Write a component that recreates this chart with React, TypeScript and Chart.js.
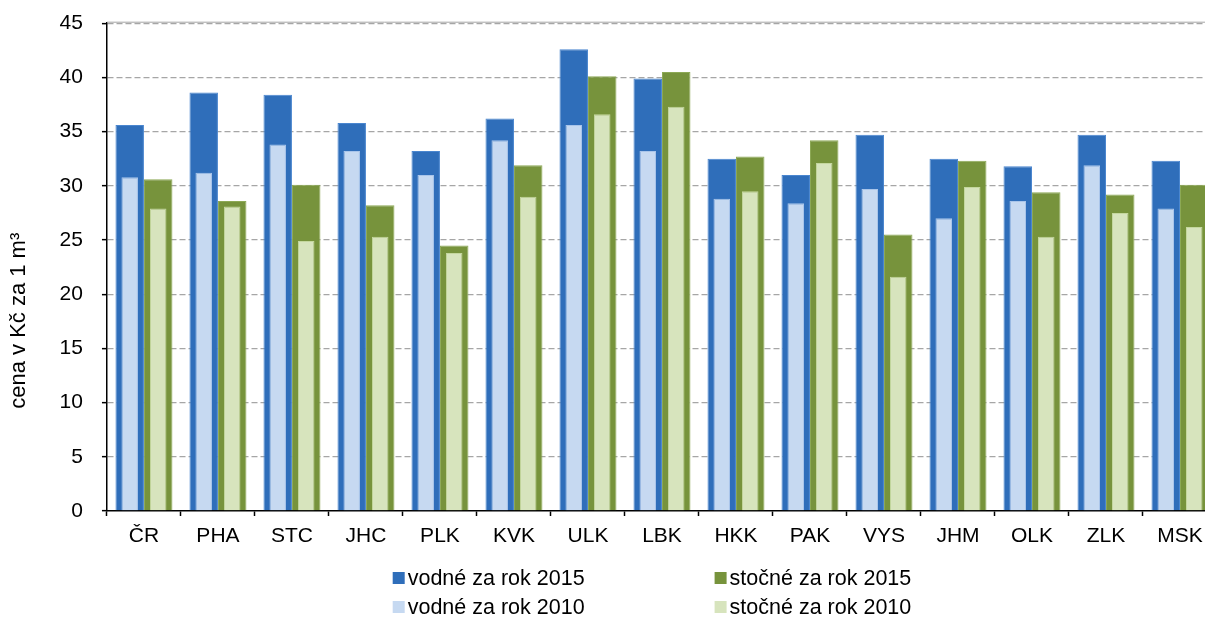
import React, { useEffect, useRef } from "react";
import { Chart, registerables } from "chart.js";

Chart.register(...registerables);

// ---- data ----
const categories = ["ČR", "PHA", "STC", "JHC", "PLK", "KVK", "ULK", "LBK", "HKK", "PAK", "VYS", "JHM", "OLK", "ZLK", "MSK"];
const vodne2015 = [35.6, 38.6, 38.4, 35.8, 33.2, 36.2, 42.6, 39.9, 32.5, 31.0, 34.7, 32.5, 31.8, 34.7, 32.3];
const stocne2015 = [30.6, 28.6, 30.1, 28.2, 24.5, 31.9, 40.1, 40.5, 32.7, 34.2, 25.5, 32.3, 29.4, 29.2, 30.1];
const vodne2010 = [30.8, 31.2, 33.8, 33.2, 31.0, 34.2, 35.6, 33.2, 28.8, 28.4, 29.7, 27.0, 28.6, 31.9, 27.9];
const stocne2010 = [27.9, 28.1, 24.9, 25.3, 23.8, 29.0, 36.6, 37.3, 29.5, 32.1, 21.6, 29.9, 25.3, 27.5, 26.2];

const seriesLabels = ["vodné za rok 2015", "stočné za rok 2015", "vodné za rok 2010", "stočné za rok 2010"];
const yMin = 0;
const yMax = 45;
const yStep = 5;
const yTitle = "cena v Kč za 1 m³";

const FONT = '"Liberation Sans", Arial, Helvetica, sans-serif';

// solid grey line along the top of the plot area
const topLine = {
  id: "topLine",
  beforeDatasetsDraw(chart: any) {
    const { ctx, chartArea } = chart;
    ctx.save();
    ctx.strokeStyle = "#A6A6A6";
    ctx.lineWidth = 1;
    ctx.beginPath();
    ctx.moveTo(chartArea.left, chartArea.top - 1);
    ctx.lineTo(chartArea.right, chartArea.top - 1);
    ctx.stroke();
    ctx.restore();
  },
};

// y axis title, placed lower than centre as in the original
const yTitlePlugin = {
  id: "yTitlePlugin",
  afterDraw(chart: any) {
    const { ctx, chartArea } = chart;
    const y = chartArea.top + (chartArea.bottom - chartArea.top) * 0.61;
    ctx.save();
    ctx.translate(19, y);
    ctx.rotate(-Math.PI / 2);
    ctx.font = `22px ${FONT}`;
    ctx.fillStyle = "#000";
    ctx.textAlign = "center";
    ctx.textBaseline = "middle";
    ctx.fillText(yTitle, 0, 0);
    ctx.restore();
  },
};

const gridLegend = {
  id: "gridLegend",
  afterDraw(chart: any) {
    const { ctx, chartArea } = chart;
    const ds = chart.data.datasets;
    const size = 21.5;
    const box = 12;
    const gapText = 3;
    const colGap = 130;
    const rowGap = 29;
    ctx.save();
    ctx.font = `${size}px ${FONT}`;
    ctx.textBaseline = "middle";
    ctx.textAlign = "left";
    const colW = [0, 0];
    ds.forEach((d: any, i: number) => {
      const w = box + gapText + ctx.measureText(d.label).width;
      colW[i % 2] = Math.max(colW[i % 2], w);
    });
    const total = colW[0] + colGap + colW[1];
    const cx = (chartArea.left + chartArea.right) / 2 - 10;
    const x0 = cx - total / 2;
    const y0 = chartArea.bottom + 67;
    ds.forEach((d: any, i: number) => {
      const c = i % 2;
      const r = Math.floor(i / 2);
      const x = x0 + (c === 0 ? 0 : colW[0] + colGap);
      const y = y0 + r * rowGap;
      ctx.fillStyle = d.backgroundColor;
      ctx.fillRect(x, y - box / 2, box, box);
      ctx.fillStyle = "#000";
      ctx.fillText(d.label, x + box + gapText, y + 1);
    });
    ctx.restore();
  },
};

export default function App() {
  const ref = useRef<HTMLCanvasElement | null>(null);

  useEffect(() => {
    if (!ref.current) return;
    const catPct = 0.77;
    const chart = new Chart(ref.current, {
      type: "bar",
      data: {
        labels: categories,
        datasets: [
          {
            label: seriesLabels[0],
            data: vodne2015,
            backgroundColor: "#2F6EBA",
            borderColor: "#4A86CF",
            borderWidth: 1,
            stack: "vodne",
            categoryPercentage: catPct,
            barPercentage: 1,
            order: 1,
          },
          {
            label: seriesLabels[1],
            data: stocne2015,
            backgroundColor: "#77933C",
            borderColor: "#8DA956",
            borderWidth: 1,
            stack: "stocne",
            categoryPercentage: catPct,
            barPercentage: 1,
            order: 1,
          },
          {
            label: seriesLabels[2],
            data: vodne2010,
            backgroundColor: "#C6D9F1",
            borderColor: "#A9C5EA",
            borderWidth: 1,
            stack: "vodne",
            categoryPercentage: catPct,
            barPercentage: 0.58,
            order: 0,
          },
          {
            label: seriesLabels[3],
            data: stocne2010,
            backgroundColor: "#D7E4BD",
            borderColor: "#C4D79E",
            borderWidth: 1,
            stack: "stocne",
            categoryPercentage: catPct,
            barPercentage: 0.58,
            order: 0,
          },
        ],
      },
      options: {
        responsive: false,
        animation: false,
        layout: { padding: { left: 40.6, right: 0, top: 17, bottom: 61.8 } },
        plugins: {
          legend: { display: false },
          tooltip: { enabled: false },
        },
        scales: {
          x: {
            type: "category",
            position: "bottom",
            offset: true,
            grid: {
              offset: true,
              drawOnChartArea: false,
              drawTicks: true,
              tickLength: 5,
              tickColor: "#000",
              tickWidth: 1.5,
            },
            border: { display: true, color: "#000", width: 1.5 },
            ticks: {
              color: "#000",
              font: { family: FONT, size: 21 },
              padding: 8,
              maxRotation: 0,
              autoSkip: false,
            },
          },
          y: {
            min: yMin,
            max: yMax,
            stacked: false,
            ticks: {
              stepSize: yStep,
              color: "#000",
              font: { family: FONT, size: 21, lineHeight: 0.4 },
              padding: 19,
            },
            grid: {
              color: (c: any) => (c.tick && c.tick.value === 0 ? "rgba(0,0,0,0)" : "#A6A6A6"),
              lineWidth: 1.3,
              drawTicks: true,
              tickLength: 5,
              tickColor: "#000",
              tickWidth: 1.5,
            },
            border: { display: true, color: "#000", width: 1.5, dash: [6, 3] },
            title: { display: false, text: yTitle },
          },
        },
      },
      plugins: [topLine, yTitlePlugin, gridLegend],
    });
    return () => chart.destroy();
  }, []);

  return (
    <div style={{ position: "absolute", left: 0, top: 0, width: 1205, height: 619, overflow: "hidden", background: "#fff" }}>
      <canvas ref={ref} width={1217} height={619} style={{ display: "block" }} />
    </div>
  );
}
